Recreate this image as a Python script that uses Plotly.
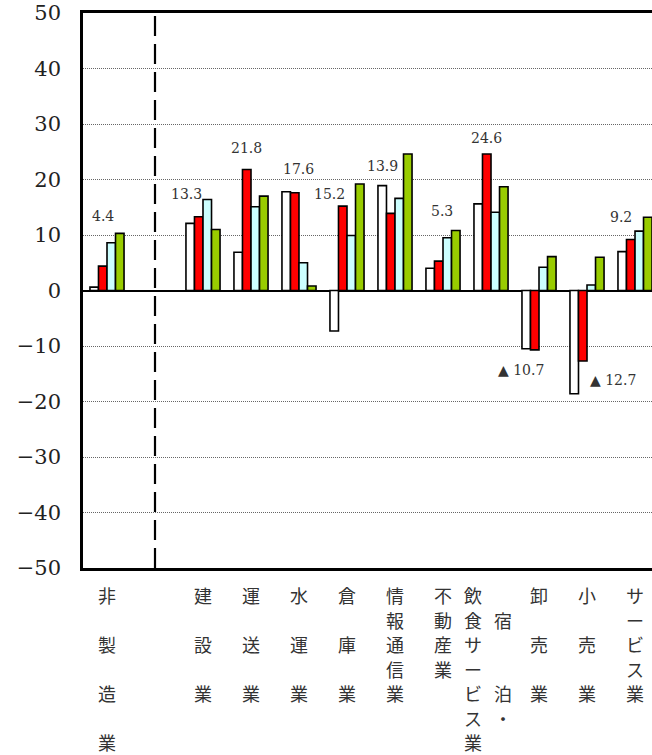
import plotly.graph_objects as go

# Categories (非製造業 is kept apart from the industries by a dashed line)
categories = ["非製造業", "建設業", "運送業", "水運業", "倉庫業", "情報通信業",
              "不動産業", "宿泊・飲食サービス業", "卸売業", "小売業", "サービス業"]

# Four series per category
white_vals = [0.6, 12.1, 6.9, 17.8, -7.3, 18.9, 4.0, 15.6, -10.5, -18.6, 7.0]
red_vals = [4.4, 13.3, 21.8, 17.6, 15.2, 13.9, 5.3, 24.6, -10.7, -12.7, 9.2]
cyan_vals = [8.6, 16.4, 15.1, 5.0, 9.9, 16.6, 9.5, 14.1, 4.2, 1.0, 10.7]
green_vals = [10.3, 11.0, 17.0, 0.8, 19.2, 24.6, 10.8, 18.7, 6.1, 6.0, 13.2]

y_ticks = list(range(-50, 51, 10))

# slot 1 is left empty for the dashed separator
x_pos = [0] + list(range(2, 2 + len(categories) - 1))

# label styling: (xshift, yshift) in pixels relative to the red bar end
label_shift = [(0, 50), (-12, 23), (0, 22), (4, 24), (-13, 12), (-8, 47),
               (3, 50), (0, 16), (-14, -20), (30, -19), (-10, 22)]
# vertical text row step per category label
row_step = [2, 2, 2, 2, 2, 1, 1, 1, 2, 2, 1]

TICK_FONT = "DejaVu Serif"
JP_FONT = "Noto Sans CJK JP"
ROW_H = 24.5

fig = go.Figure()

series = [(white_vals, "#FFFFFF"), (red_vals, "#FF0000"),
          (cyan_vals, "#CCFFFF"), (green_vals, "#99CC00")]
for vals, col in series:
    fig.add_trace(go.Bar(x=x_pos, y=vals,
                         marker=dict(color=col, line=dict(color="black", width=1.6)),
                         showlegend=False))

# value labels for the red series
group_w = 1 - 0.29
bar_w = group_w / 4
red_off = -group_w / 2 + 1.5 * bar_w
for i, v in enumerate(red_vals):
    xs, ys = label_shift[i]
    txt = f"{v:.1f}" if v >= 0 else f"▲ {abs(v):.1f}"
    fig.add_annotation(x=x_pos[i] + red_off, y=v, text=txt, showarrow=False,
                       xshift=xs, yshift=ys, xanchor="center", yanchor="middle",
                       font=dict(family=TICK_FONT, size=14, color="#333333"))


# vertical category labels, one character per annotation
def add_column(chars, x, rows, xshift=0):
    for ch, r in zip(chars, rows):
        fig.add_annotation(x=x, xref="x", y=0, yref="paper", text=ch,
                           showarrow=False, xanchor="center", yanchor="middle",
                           xshift=xshift, yshift=-(27 + r * ROW_H),
                           font=dict(family=JP_FONT, size=18, color="#333333"))


for i, name in enumerate(categories):
    if name.startswith("宿泊・"):
        add_column("宿泊・", x_pos[i], [1, 4, 5], xshift=12)
        rest = name[3:]
        add_column(rest, x_pos[i], range(len(rest)), xshift=-18)
    else:
        add_column(name, x_pos[i], [k * row_step[i] for k in range(len(name))])

# dashed separator
fig.add_shape(type="line", x0=1, x1=1, xref="x", y0=0, y1=1, yref="paper",
              line=dict(color="black", width=2.2, dash="20px,8px"))

fig.update_layout(
    width=652, height=755,
    margin=dict(l=83, r=0, t=13, b=187),
    barmode="group", bargap=0.29, bargroupgap=0,
    paper_bgcolor="white", plot_bgcolor="white",
    showlegend=False,
)
fig.update_xaxes(range=[-0.5, 11.354], showticklabels=False, ticks="",
                 showgrid=False, zeroline=False,
                 showline=True, linecolor="black", linewidth=2.5, mirror=True)
fig.update_yaxes(range=[-50, 50], tickvals=y_ticks, ticks="",
                 ticklabelstandoff=15, ticklabeloverflow="allow",
                 tickfont=dict(family=TICK_FONT, size=21, color="#222222"),
                 showgrid=True, gridcolor="#666666", gridwidth=1, griddash="1px,1px",
                 zeroline=True, zerolinecolor="black", zerolinewidth=2,
                 showline=True, linecolor="black", linewidth=2.5)

# drop the default body margin so the figure fills the window exactly
fig.write_html("out.html", config={"displayModeBar": False},
               post_script="document.body.style.margin='0';")
